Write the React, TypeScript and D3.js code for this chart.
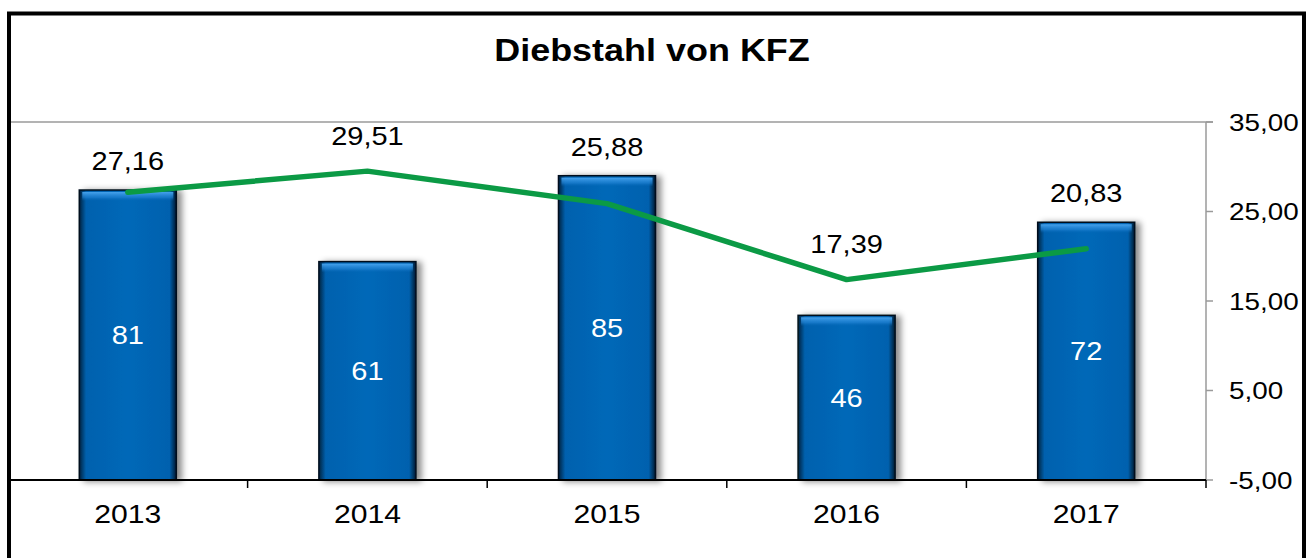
import React from 'react';
import * as d3 from 'd3';

const years = ['2013', '2014', '2015', '2016', '2017'];
const counts = [81, 61, 85, 46, 72];
const rates = [27.16, 29.51, 25.88, 17.39, 20.83];
const rateTicks = [-5, 5, 15, 25, 35];
const title = 'Diebstahl von KFZ';

const FONT = '"Liberation Sans", Arial, sans-serif';
const SX = 1.16;

function T(props: { x: number; y: number; size: number; anchor?: string; fill?: string; weight?: string; children: React.ReactNode }) {
  const { x, y, size, anchor = 'middle', fill = '#000', weight = 'normal', children } = props;
  return (
    <text
      transform={`translate(${x},${y}) scale(${SX},1)`}
      textAnchor={anchor as any}
      fontFamily={FONT}
      fontSize={size}
      fontWeight={weight}
      fill={fill}
    >
      {children}
    </text>
  );
}

export default function App() {
  const W = 1315;
  const H = 558;
  const left = 8;
  const right = 1206;
  const top = 122;
  const bottom = 480;

  const x = d3.scaleBand<string>().domain(years).range([left, right]).paddingInner(0.595).paddingOuter(0.2975);
  const yBar = d3.scaleLinear().domain([0, 100]).range([bottom, top]);
  const yRate = d3.scaleLinear().domain([-5, 35]).range([bottom, top]);
  const fmt = (v: number) => d3.format('.2f')(v).replace('.', ',').replace('\u2212', '-');
  const cx = (d: string) => (x(d) as number) + x.bandwidth() / 2;
  const step = x.step();
  const line = d3
    .line<number>()
    .x((_, i) => cx(years[i]))
    .y((v) => yRate(v));

  const bw = x.bandwidth();

  return (
    <svg width={W} height={H} style={{ position: 'absolute', left: 0, top: 0, background: '#fff' }}>
      <defs>
        <linearGradient id="barH" x1="0" x2="1" y1="0" y2="0">
          <stop offset="0" stopColor="#01223f" />
          <stop offset="0.07" stopColor="#0561ae" />
          <stop offset="0.5" stopColor="#0668b8" />
          <stop offset="0.93" stopColor="#0561ae" />
          <stop offset="1" stopColor="#01182e" />
        </linearGradient>
        <linearGradient id="bevel" x1="0" x2="0" y1="0" y2="1">
          <stop offset="0" stopColor="#4aa6f0" stopOpacity="0.95" />
          <stop offset="0.6" stopColor="#2486d8" stopOpacity="0.6" />
          <stop offset="1" stopColor="#0667b7" stopOpacity="0" />
        </linearGradient>
        <filter id="shadow" x="-20%" y="-10%" width="150%" height="130%">
          <feDropShadow dx="5" dy="1" stdDeviation="3" floodColor="#000" floodOpacity="0.45" />
        </filter>
      </defs>
      <rect x={0} y={0} width={W} height={H} fill="#fff" />

      {/* title */}
      <T x={652} y={61} size={31} weight="bold">{title}</T>

      {/* top gridline */}
      <line x1={10} x2={right + 7} y1={top} y2={top} stroke="#9a9a9a" strokeWidth={1.5} />

      {/* bars */}
      {years.map((yr, i) => {
        const bx = x(yr) as number;
        const by = yBar(counts[i]);
        const h = bottom - by;
        return (
          <g key={yr}>
            <rect x={bx} y={by} width={bw} height={h} fill="url(#barH)" stroke="#02101e" strokeWidth={1.5} filter="url(#shadow)" />
            <rect x={bx + 3} y={by + 2} width={bw - 6} height={9} fill="url(#bevel)" />
          </g>
        );
      })}

      {/* right axis */}
      <line x1={right} x2={right} y1={top} y2={bottom} stroke="#9a9a9a" strokeWidth={1.5} />
      {rateTicks.map((t) => (
        <g key={t}>
          <line x1={right} x2={right + 7} y1={yRate(t)} y2={yRate(t)} stroke="#9a9a9a" strokeWidth={1.5} />
          <T x={1229} y={yRate(t) + 8.5} size={24} anchor="start">{fmt(t)}</T>
        </g>
      ))}

      {/* bottom axis */}
      <line x1={10} x2={right} y1={bottom} y2={bottom} stroke="#000" strokeWidth={2} />
      {d3.range(years.length + 1).map((i) => (
        <line key={i} x1={left + i * step} x2={left + i * step} y1={bottom} y2={bottom + 8} stroke="#000" strokeWidth={1.5} />
      ))}
      {years.map((yr) => (
        <T key={yr} x={cx(yr)} y={523} size={26}>{yr}</T>
      ))}

      {/* rate line */}
      <path d={line(rates) || ''} fill="none" stroke="#0b9a45" strokeWidth={5.5} strokeLinejoin="round" strokeLinecap="round" />

      {/* bar labels */}
      {years.map((yr, i) => {
        const by = yBar(counts[i]);
        return (
          <T key={yr} x={cx(yr)} y={(by + bottom) / 2 + 9} size={25} fill="#fff">{counts[i]}</T>
        );
      })}

      {/* line labels */}
      {years.map((yr, i) => {
        const py = yRate(rates[i]);
        const by = yBar(counts[i]);
        const cy = py < by ? py - 35.5 : by - 29;
        return (
          <T key={yr} x={cx(yr)} y={cy + 9} size={25}>{fmt(rates[i])}</T>
        );
      })}

      {/* outer border */}
      <rect x={9} y={13.5} width={1295} height={600} fill="none" stroke="#000" strokeWidth={4} />
    </svg>
  );
}
